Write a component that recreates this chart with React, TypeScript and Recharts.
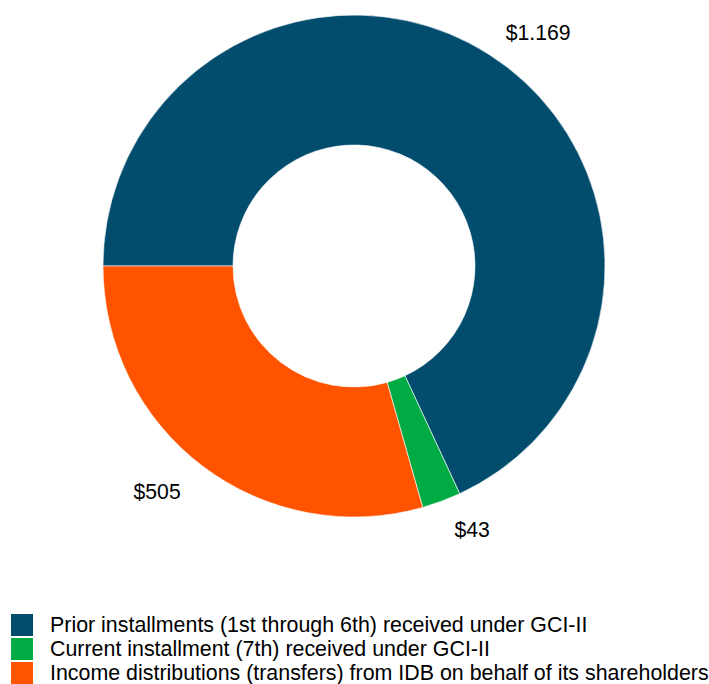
import React from "react";
import { PieChart, Pie, Cell } from "recharts";

const categories = [
  "Prior installments (1st through 6th) received under GCI-II",
  "Current installment (7th) received under GCI-II",
  "Income distributions (transfers) from IDB on behalf of its shareholders",
];
const values = [1169, 43, 505];
const valueLabels = ["$1.169", "$43", "$505"];
const colors = ["#024C6E", "#00AB44", "#FF5300"];

const data = categories.map((name, i) => ({ name, value: values[i], label: valueLabels[i] }));

const RAD = Math.PI / 180;
const FONT = "'Liberation Sans', Arial, sans-serif";
const FS = 21.2;
const LEGEND_FS = 21.4;

const renderLabel = (props: any) => {
  const { cx, cy, midAngle, outerRadius, index } = props;
  const r = outerRadius + 20;
  const cos = Math.cos(-midAngle * RAD);
  const sin = Math.sin(-midAngle * RAD);
  const x = cx + r * cos;
  const y = cy + r * sin;
  const right = cos >= 0;
  const top = sin < 0;
  return (
    <text
      x={x + (right ? 6 : -10)}
      y={top ? y + 2 : y + 17}
      textAnchor={right ? "start" : "end"}
      fill="#000"
      fontSize={FS}
      fontFamily={FONT}
    >
      {valueLabels[index]}
    </text>
  );
};

export default function App() {
  return (
    <div style={{ position: "absolute", left: 0, top: 0, width: 709, height: 684 }}>
      <PieChart width={709} height={610} margin={{ top: 0, right: 0, bottom: 0, left: 0 }}>
        <Pie
          data={data}
          dataKey="value"
          nameKey="name"
          cx={354}
          cy={266}
          innerRadius={121}
          outerRadius={251}
          startAngle={180}
          endAngle={-180}
          stroke="#ffffff"
          strokeWidth={0.6}
          label={renderLabel}
          labelLine={false}
          isAnimationActive={false}
        >
          {data.map((d, i) => (
            <Cell key={d.name} fill={colors[i]} />
          ))}
        </Pie>
      </PieChart>
      <div style={{ position: "absolute", left: 0, top: 613, fontFamily: FONT, fontSize: LEGEND_FS, color: "#000" }}>
        {categories.map((c, i) => (
          <div key={c} style={{ display: "flex", alignItems: "center", height: 24 }}>
            <div style={{ width: 22, height: 22, background: colors[i], marginLeft: 11, marginRight: 17, flex: "none" }} />
            <span style={{ whiteSpace: "nowrap", lineHeight: "22px" }}>{c}</span>
          </div>
        ))}
      </div>
    </div>
  );
}
